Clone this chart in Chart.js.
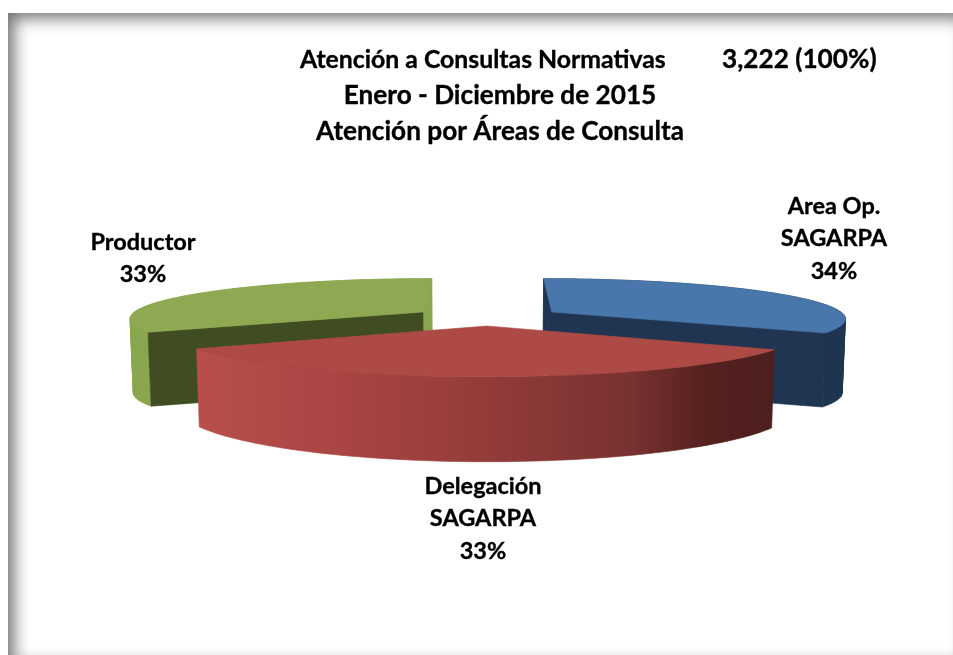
<!DOCTYPE html>
<html lang="es">
<head>
<meta charset="utf-8">
<title>Atención a Consultas Normativas</title>
<script src="https://cdn.jsdelivr.net/npm/chart.js@4"></script>
<style>
html,body{margin:0;padding:0;background:#fff;overflow:hidden}
#frame{position:absolute;left:8px;top:13px;width:951px;height:646px;box-shadow:inset 6px 5px 16px rgba(0,0,0,.56);background:#fff}
#wrap{position:absolute;left:0;top:0;width:953px;height:655px}
</style>
</head>
<body>
<div id="frame"></div>
<div id="wrap"><canvas id="c" width="953" height="655"></canvas></div>
<script>
const categories = ["Area Op. SAGARPA", "Delegación SAGARPA", "Productor"];
const labelLines = [["Area Op.", "SAGARPA"], ["Delegación", "SAGARPA"], ["Productor"]];
const values = [1080, 1072, 1070];
const titleLines = ["Enero - Diciembre de 2015", "Atención por Áreas de Consulta"];
const titleHead = "Atención a Consultas Normativas";
const titleTotal = "3,222 (100%)";

const topColors = ["#4a77ab", "#ad4a46", "#8fa953"];
const wallColors = ["#1f3551", null, "#8aa64f"];
const startCut = ["#1f3551", "#7a3331", "#404d22"];
const endCut = ["#1f3551", "#7a3331", "#8aa64f"];
const radiusScale = [1, 1.012, 1];

const labelAnchors = [[834, 206], [483, 486], [143, 242]];
const FONT = "Lato, Carlito, sans-serif";
const R = 1.095, EX = 0.28, EY = 0.255, VX = 487.5, VY = 48, PA = 0.0037245, PB = 0.0005;

function project(X, Y, low) {
  const q = 1 / (PA - PB * Y);
  return low ? [VX + X * q * 0.991, VY + q + Math.max(74, 1 + 0.256 * q)] : [VX + X * q, VY + q];
}
function shoelace(pts) {
  let a = 0;
  pts.forEach((p, i) => { const n = pts[(i + 1) % pts.length]; a += p[0] * n[1] - n[0] * p[1]; });
  return a;
}
function poly(ctx, pts, fill) {
  ctx.beginPath();
  pts.forEach((p, i) => i ? ctx.lineTo(p[0], p[1]) : ctx.moveTo(p[0], p[1]));
  ctx.closePath();
  ctx.fillStyle = fill; ctx.strokeStyle = fill; ctx.lineWidth = 0.6;
  ctx.fill(); ctx.stroke();
}
function wallBand(ctx, up, dn, fill) {
  ctx.beginPath();
  for (let k = 0; k < up.length - 1; k++) {
    let q = [up[k], up[k + 1], dn[k + 1], dn[k]];
    if (shoelace(q) < 0) q = q.reverse();
    q.forEach((p, i) => i ? ctx.lineTo(p[0], p[1]) : ctx.moveTo(p[0], p[1]));
    ctx.closePath();
  }
  ctx.fillStyle = fill; ctx.strokeStyle = fill; ctx.lineWidth = 0.6;
  ctx.fill("nonzero"); ctx.stroke();
}
function strokedText(ctx, t, x, y) {
  ctx.fillText(t, x, y);
  ctx.strokeText(t, x, y);
}
const pie3d = {
  id: "pie3d",
  beforeDatasetDraw(chart, args) {
    const ctx = chart.ctx, arcs = chart.getDatasetMeta(args.index).data;
    const order = arcs.map((a, i) => i).sort((i, j) => {
      const m = k => Math.sin((arcs[k].startAngle + arcs[k].endAngle) / 2);
      return m(i) - m(j);
    });
    ctx.save();
    order.forEach(i => {
      const s = arcs[i].startAngle, e = arcs[i].endAngle, mid = (s + e) / 2;
      const ox = EX * Math.cos(mid), oy = EY * Math.sin(mid);
      const r = R * radiusScale[i];
      const rim = [], N = 72;
      for (let k = 0; k <= N; k++) {
        const t = s + (e - s) * k / N;
        rim.push([ox + r * Math.cos(t), oy + r * Math.sin(t)]);
      }
      const up = rim.map(p => project(p[0], p[1], false));
      const dn = rim.map(p => project(p[0], p[1], true));
      const aU = project(ox, oy, false), aD = project(ox, oy, true);
      let wall = wallColors[i];
      if (!wall) {
        wall = ctx.createLinearGradient(196, 0, 775, 0);
        wall.addColorStop(0, "#b84f4c");
        wall.addColorStop(0.25, "#a94543");
        wall.addColorStop(0.5, "#933c3a");
        wall.addColorStop(0.75, "#783231");
        wall.addColorStop(0.88, "#55211f");
        wall.addColorStop(1, "#4c1f1e");
      }
      wallBand(ctx, up, dn, wall);
      const sFace = [aU, up[0], dn[0], aD], eFace = [aU, up[N], dn[N], aD];
      if (shoelace(sFace) < 0) poly(ctx, sFace, startCut[i]);
      if (shoelace(eFace) > 0) poly(ctx, eFace, endCut[i]);
      poly(ctx, [aU].concat(up), topColors[i]);
    });
    ctx.restore();
    return false;
  },
  afterDraw(chart) {
    const ctx = chart.ctx;
    ctx.save();
    ctx.fillStyle = "#000";
    ctx.strokeStyle = "#000";
    ctx.lineWidth = 0.35;
    ctx.textBaseline = "middle";
    ctx.font = "bold 24.8px " + FONT;
    ctx.textAlign = "left";
    strokedText(ctx, titleHead, 300, 60);
    ctx.font = "bold 26.2px " + FONT;
    strokedText(ctx, titleTotal, 722, 60);
    ctx.textAlign = "center";
    titleLines.forEach((t, i) => strokedText(ctx, t, 500, 96 + i * 36));
    ctx.font = "bold 23.5px " + FONT;
    const total = values.reduce((a, b) => a + b, 0);
    labelLines.forEach((lines, i) => {
      const all = lines.concat(Math.round(values[i] / total * 100) + "%");
      all.forEach((t, k) => strokedText(ctx, t, labelAnchors[i][0], labelAnchors[i][1] + k * 32.5));
    });
    ctx.restore();
  }
};
new Chart(document.getElementById("c"), {
  type: "pie",
  data: { labels: categories, datasets: [{ data: values, backgroundColor: topColors, borderWidth: 0 }] },
  options: {
    responsive: false,
    animation: false,
    plugins: { legend: { display: false }, tooltip: { enabled: false } }
  },
  plugins: [pie3d]
});
</script>
</body>
</html>
